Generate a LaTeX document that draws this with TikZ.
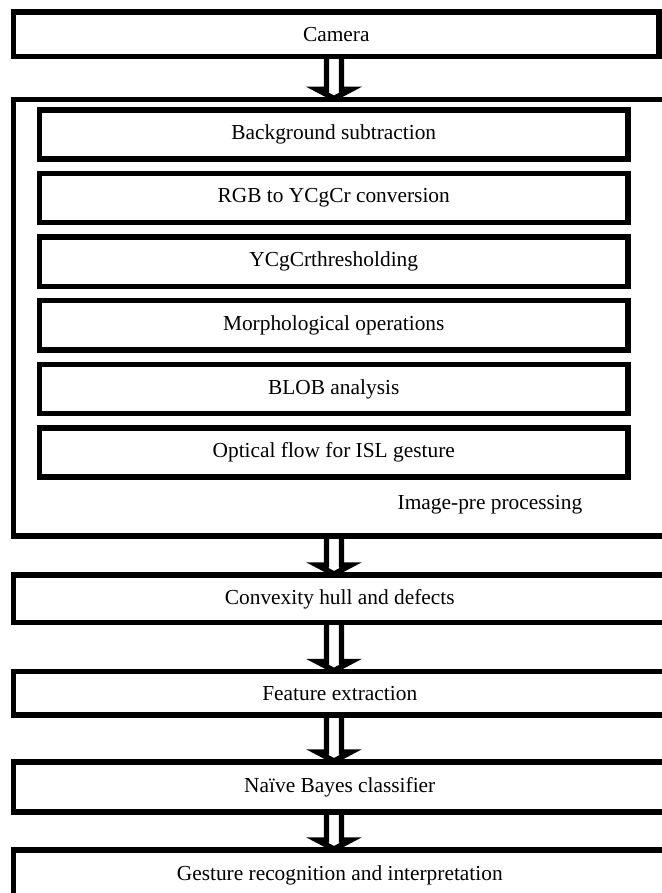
\documentclass[tikz,border=0pt]{standalone}
\usepackage{fontspec}
\setmainfont{Liberation Serif}
\usetikzlibrary{calc}

\tikzset{
  stage/.style={draw, rectangle, line width=0.135cm, outer sep=0pt, inner sep=0pt,
    font=\fontsize{15.2}{18}\selectfont},
  mainstep/.style={stage, minimum width=16.3125cm},
  substep/.style={stage, minimum width=14.7125cm, minimum height=1.225cm},
  blockarrow/.style={line width=0.135cm, line join=miter}
}
% hollow block arrow from the bottom of #1 to the top of #2
\newcommand{\hollowarrow}[2]{%
  \draw[blockarrow] ($(#1.south -| ax)+(-7.5,0)$) -- ($(#2.north -| ax)+(-7.5,-10)$) -- ++(-9.5,0)
    -- ($(#2.north -| ax)+(0,-1)$) -- ($(#2.north -| ax)+(17,-10)$) -- ++(-9.5,0)
    -- ($(#1.south -| ax)+(7.5,0)$);}

\begin{document}
\begin{tikzpicture}[x=0.025cm, y=-0.025cm]
  \clip (0,0) rectangle (662,893);
  \coordinate (ax) at (334,0);

  \node[stage, minimum width=16.1375cm, minimum height=1.1125cm] (camera) at (336.25,34.25) {Camera};

  % image pre-processing block
  \node[mainstep, minimum height=10.9125cm] (pre) at (339.75,317.75) {};
  \node[substep] (bgsub) at (333.75,134.5) {Background subtraction};
  \node[substep] (rgb) at (333.75,198.1) {RGB to YCgCr conversion};
  \node[substep] (thresh) at (333.75,261.7) {YCgCrthresholding};
  \node[substep] (morph) at (333.75,325.3) {Morphological operations};
  \node[substep] (blob) at (333.75,388.9) {BLOB analysis};
  \node[substep] (flow) at (333.75,452.5) {Optical flow for ISL gesture};
  \node[font=\fontsize{15.2}{18}\selectfont] (prelabel) at (490,505) {Image-pre processing};

  \node[mainstep, minimum height=1.1925cm] (hull) at (339.75,598.85) {Convexity hull and defects};
  \node[mainstep, minimum height=1.08cm] (feat) at (339.75,693.2) {Feature extraction};
  \node[mainstep, minimum height=1.25cm] (bayes) at (339.75,787) {Naïve Bayes classifier};
  \node[mainstep, minimum height=1.25cm] (gest) at (339.75,875) {Gesture recognition and interpretation};

  \hollowarrow{camera}{pre}
  \hollowarrow{pre}{hull}
  \hollowarrow{hull}{feat}
  \hollowarrow{feat}{bayes}
  \hollowarrow{bayes}{gest}
\end{tikzpicture}
\end{document}
